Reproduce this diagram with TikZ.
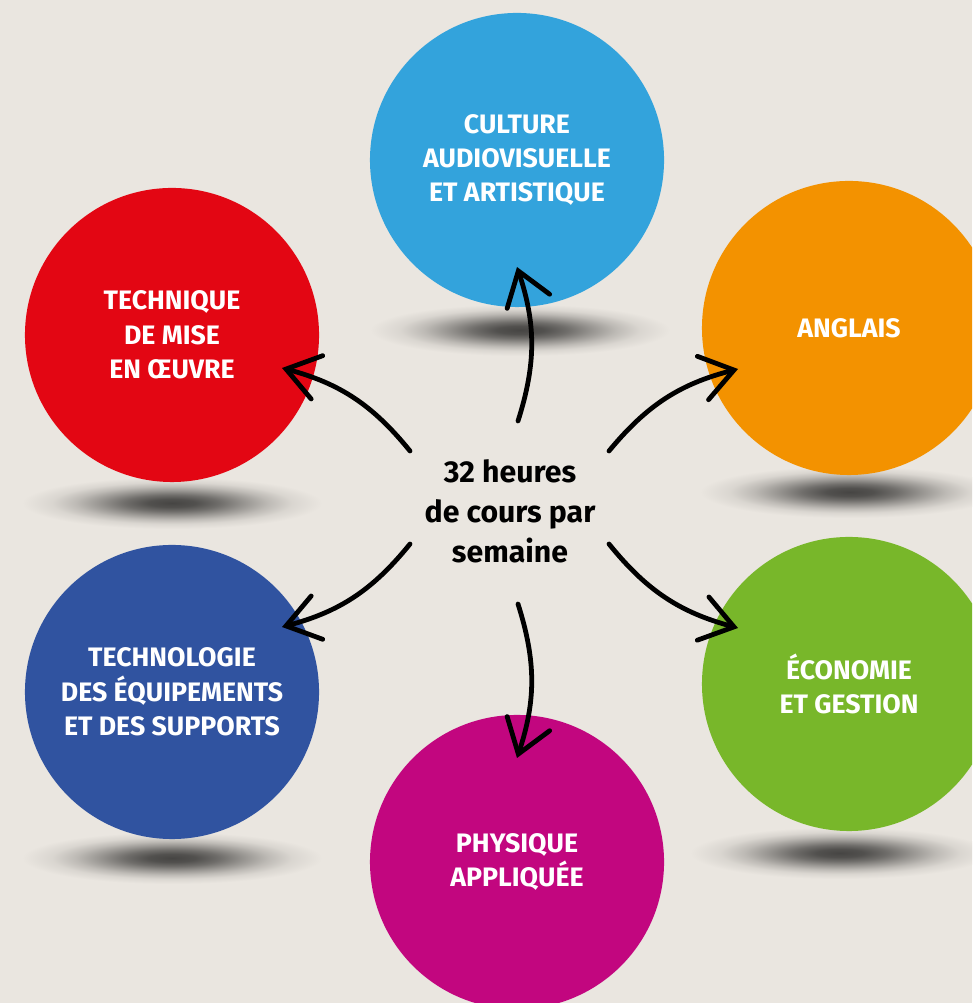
\documentclass[tikz,border=0pt]{standalone}
\usepackage{fontspec}
\setmainfont{Fira Sans}
\usetikzlibrary{arrows.meta,calc}
\definecolor{fond}{HTML}{EAE6E0}
\definecolor{cbleu}{HTML}{33A3DC}
\definecolor{crouge}{HTML}{E30613}
\definecolor{corange}{HTML}{F39200}
\definecolor{cmarine}{HTML}{3053A0}
\definecolor{cvert}{HTML}{78B72A}
\definecolor{cfuchsia}{HTML}{C2067F}
\newcommand{\rc}{7.35cm}
\pgfdeclareradialshading{ombre}{\pgfpoint{0bp}{0bp}}{color(0bp)=(black!70!fond); color(4bp)=(black!65!fond); color(8bp)=(black!52!fond); color(12bp)=(black!35!fond); color(16bp)=(black!19!fond); color(20bp)=(black!7!fond); color(25bp)=(fond); color(50bp)=(fond)}
\tikzset{
  rond/.style={circle,minimum size=\rc,inner sep=0pt,text=white,align=center,
    font=\bfseries\fontsize{19}{24.5}\selectfont},
  fleche/.style={line width=3.4pt,line cap=round,
    -{Straight Barb[length=0.8cm,width=1.12cm,line cap=round]}}
}

\begin{document}
\begin{tikzpicture}[x=0.025cm,y=0.025cm]
\useasboundingbox (0,0) rectangle (972,1003);
\fill[fond] (0,0) rectangle (972,1003);
\clip (0,0) rectangle (972,1003);
\foreach \x/\y in {520/673,172/500,850/511,172/145,840/150}{
\shade[shading=ombre] (\x,\y) ellipse (150 and 26);
}
\node[rond,fill=cbleu] (cav) at (517,843) {CULTURE\\AUDIOVISUELLE\\ET ARTISTIQUE};
\node[rond,fill=crouge] (tmo) at (172,668) {TECHNIQUE\\DE MISE\\EN ŒUVRE};
\node[rond,fill=corange] (ang) at (849,675) {ANGLAIS};
\node[rond,fill=cmarine] (tes) at (172,311) {TECHNOLOGIE\\DES ÉQUIPEMENTS\\ET DES SUPPORTS};
\node[rond,fill=cvert] (eco) at (849,319) {ÉCONOMIE\\ET GESTION};
\node[rond,fill=cfuchsia] (phy) at (517,141) {PHYSIQUE\\APPLIQUÉE};
\node[align=center,font=\bfseries\fontsize{21.5}{28.5}\selectfont] (centre) at (510,492) {32 heures\\de cours par\\semaine};
\path (centre) ++(8,90) coordinate (d1);
\path (centre) ++(-100,60) coordinate (d2);
\path (centre) ++(99,60) coordinate (d3);
\path (centre) ++(-100,-33) coordinate (d4);
\path (centre) ++(99,-33) coordinate (d5);
\path (centre) ++(8,-93) coordinate (d6);
\path (cav) ++(0,-107) coordinate (f1);
\path (tmo) ++(110,-33) coordinate (f2);
\path (ang) ++(-111,-41) coordinate (f3);
\path (tes) ++(110,65) coordinate (f4);
\path (eco) ++(-111,56) coordinate (f5);
\path (phy) ++(0,104) coordinate (f6);
\draw[fleche] (d1) to[bend right=18] (f1);
\draw[fleche] (d2) to[bend right=18] (f2);
\draw[fleche] (d3) to[bend left=18] (f3);
\draw[fleche] (d4) to[bend left=18] (f4);
\draw[fleche] (d5) to[bend right=18] (f5);
\draw[fleche] (d6) to[bend left=18] (f6);
\end{tikzpicture}
\end{document}
